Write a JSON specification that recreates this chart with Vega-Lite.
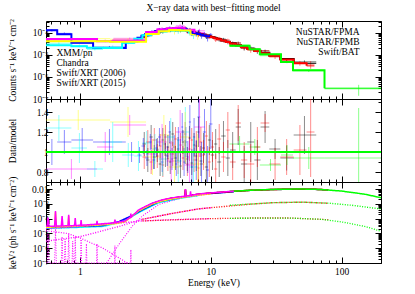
{
"$schema": "https://vega.github.io/schema/vega-lite/v6.json",
"padding": {"left": 7, "top": 3, "right": 5, "bottom": 5},
"config": {
  "font": "Liberation Serif",
  "view": {"stroke": "black", "strokeWidth": 1},
  "axis": {"domain": false, "grid": false, "minExtent": 0, "tickColor": "black", "tickWidth": 1, "domainColor": "black", "domainWidth": 1, "labelColor": "black", "labelFont": "Liberation Serif", "labelFontSize": 9.5, "titleFont": "Liberation Serif", "titleFontSize": 9.5, "titleFontWeight": "normal", "titleColor": "black", "labelPadding": 3},
  "axisX": {"minExtent": 0},
  "axisY": {"minExtent": 0},
  "title": {"font": "Liberation Serif", "fontSize": 9.5, "fontWeight": "normal", "color": "black"}
},
"title": {"text": "X−ray data with best−fitting model", "anchor": "middle", "offset": 6},
"width": 335,
"height": 242,
"datasets": {
  "spec": [
    {"i":"FPMA","lo":3.0,"hi":3.2,"e":3.1,"m":7.0e-5,"v":7.6e-5,"dv":8.4e-6,"r":1.08,"dr":0.12},
    {"i":"FPMA","lo":3.2,"hi":3.4,"e":3.3,"m":8.0e-5,"v":7.4e-5,"dv":9.6e-6,"r":0.92,"dr":0.12},
    {"i":"FPMA","lo":3.4,"hi":3.6,"e":3.5,"m":9.2e-5,"v":1.06e-4,"dv":1.1e-5,"r":1.15,"dr":0.12},
    {"i":"FPMA","lo":3.6,"hi":3.8,"e":3.7,"m":1.03e-4,"v":9.8e-5,"dv":1.24e-5,"r":0.95,"dr":0.12},
    {"i":"FPMA","lo":3.8,"hi":4.0,"e":3.9,"m":1.12e-4,"v":1.14e-4,"dv":1.34e-5,"r":1.02,"dr":0.12},
    {"i":"FPMA","lo":4.0,"hi":4.2,"e":4.1,"m":1.2e-4,"v":1.06e-4,"dv":1.44e-5,"r":0.88,"dr":0.12},
    {"i":"FPMA","lo":4.2,"hi":4.4,"e":4.3,"m":1.27e-4,"v":1.42e-4,"dv":1.52e-5,"r":1.12,"dr":0.12},
    {"i":"FPMA","lo":4.4,"hi":4.6,"e":4.5,"m":1.32e-4,"v":1.28e-4,"dv":1.58e-5,"r":0.97,"dr":0.12},
    {"i":"FPMA","lo":4.6,"hi":4.8,"e":4.7,"m":1.36e-4,"v":1.43e-4,"dv":1.63e-5,"r":1.05,"dr":0.12},
    {"i":"FPMA","lo":4.8,"hi":5.0,"e":4.9,"m":1.39e-4,"v":1.25e-4,"dv":1.67e-5,"r":0.9,"dr":0.12},
    {"i":"FPMA","lo":5.0,"hi":5.25,"e":5.12,"m":1.42e-4,"v":1.68e-4,"dv":1.7e-5,"r":1.18,"dr":0.12},
    {"i":"FPMA","lo":5.25,"hi":5.5,"e":5.37,"m":1.44e-4,"v":1.35e-4,"dv":1.73e-5,"r":0.94,"dr":0.12},
    {"i":"FPMA","lo":5.5,"hi":5.75,"e":5.62,"m":1.45e-4,"v":1.49e-4,"dv":1.74e-5,"r":1.03,"dr":0.12},
    {"i":"FPMA","lo":5.75,"hi":6.0,"e":5.87,"m":1.44e-4,"v":1.24e-4,"dv":1.73e-5,"r":0.86,"dr":0.12},
    {"i":"FPMA","lo":6.0,"hi":6.25,"e":6.12,"m":1.42e-4,"v":1.56e-4,"dv":1.7e-5,"r":1.1,"dr":0.12},
    {"i":"FPMA","lo":6.25,"hi":6.5,"e":6.37,"m":1.55e-4,"v":1.55e-4,"dv":1.86e-5,"r":1.0,"dr":0.12},
    {"i":"FPMA","lo":6.5,"hi":6.75,"e":6.62,"m":1.25e-4,"v":1.16e-4,"dv":1.5e-5,"r":0.93,"dr":0.12},
    {"i":"FPMA","lo":6.75,"hi":7.0,"e":6.87,"m":1.18e-4,"v":1.35e-4,"dv":1.42e-5,"r":1.14,"dr":0.12},
    {"i":"FPMA","lo":7.0,"hi":7.3,"e":7.15,"m":1.12e-4,"v":1.0e-4,"dv":1.34e-5,"r":0.89,"dr":0.12},
    {"i":"FPMA","lo":7.3,"hi":7.6,"e":7.45,"m":1.06e-4,"v":1.13e-4,"dv":1.27e-5,"r":1.07,"dr":0.12},
    {"i":"FPMA","lo":7.6,"hi":7.9,"e":7.75,"m":1.0e-4,"v":9.6e-5,"dv":1.5e-5,"r":0.96,"dr":0.15},
    {"i":"FPMA","lo":7.9,"hi":8.2,"e":8.05,"m":9.5e-5,"v":1.14e-4,"dv":1.43e-5,"r":1.2,"dr":0.15},
    {"i":"FPMA","lo":8.2,"hi":8.6,"e":8.4,"m":8.9e-5,"v":8.1e-5,"dv":1.34e-5,"r":0.91,"dr":0.15},
    {"i":"FPMA","lo":8.6,"hi":9.0,"e":8.8,"m":8.3e-5,"v":8.6e-5,"dv":1.25e-5,"r":1.04,"dr":0.15},
    {"i":"FPMA","lo":9.0,"hi":9.5,"e":9.25,"m":7.7e-5,"v":6.5e-5,"dv":1.16e-5,"r":0.85,"dr":0.15},
    {"i":"FPMA","lo":9.5,"hi":10.0,"e":9.75,"m":7.1e-5,"v":8.0e-5,"dv":1.07e-5,"r":1.12,"dr":0.15},
    {"i":"FPMA","lo":10.0,"hi":10.6,"e":10.3,"m":6.5e-5,"v":6.3e-5,"dv":9.8e-6,"r":0.97,"dr":0.15},
    {"i":"FPMA","lo":10.6,"hi":11.2,"e":10.9,"m":5.9e-5,"v":6.4e-5,"dv":8.9e-6,"r":1.08,"dr":0.15},
    {"i":"FPMA","lo":11.2,"hi":12.0,"e":11.6,"m":5.3e-5,"v":4.8e-5,"dv":8.0e-6,"r":0.9,"dr":0.15},
    {"i":"FPMA","lo":12.0,"hi":13.0,"e":12.5,"m":4.6e-5,"v":5.3e-5,"dv":6.9e-6,"r":1.16,"dr":0.15},
    {"i":"FPMA","lo":13.0,"hi":14.0,"e":13.5,"m":4.0e-5,"v":3.8e-5,"dv":7.2e-6,"r":0.94,"dr":0.18},
    {"i":"FPMA","lo":14.0,"hi":15.5,"e":14.7,"m":3.4e-5,"v":3.5e-5,"dv":6.1e-6,"r":1.02,"dr":0.18},
    {"i":"FPMA","lo":15.5,"hi":17.0,"e":16.2,"m":2.8e-5,"v":3.5e-5,"dv":5.0e-6,"r":1.25,"dr":0.18},
    {"i":"FPMA","lo":17.0,"hi":19.0,"e":18.0,"m":2.3e-5,"v":2.0e-5,"dv":4.1e-6,"r":0.88,"dr":0.18},
    {"i":"FPMA","lo":19.0,"hi":21.5,"e":20.2,"m":1.9e-5,"v":2.1e-5,"dv":3.8e-6,"r":1.1,"dr":0.2},
    {"i":"FPMA","lo":21.5,"hi":24.0,"e":22.7,"m":1.55e-5,"v":1.43e-5,"dv":3.1e-6,"r":0.92,"dr":0.2},
    {"i":"FPMA","lo":24.0,"hi":28.0,"e":26.0,"m":1.25e-5,"v":1.56e-5,"dv":2.0e-6,"r":1.25,"dr":0.16},
    {"i":"FPMA","lo":28.0,"hi":34.0,"e":31.0,"m":9.5e-6,"v":9.8e-6,"dv":9.5e-7,"r":1.03,"dr":0.1},
    {"i":"FPMA","lo":34.0,"hi":43.0,"e":38.0,"m":6.5e-6,"v":6.1e-6,"dv":8.1e-7,"r":0.94,"dr":0.125},
    {"i":"FPMA","lo":43.0,"hi":64.0,"e":52.0,"m":4.2e-6,"v":4.9e-6,"dv":8.0e-7,"r":1.17,"dr":0.19},
    {"i":"FPMB","lo":3.0,"hi":3.2,"e":3.1,"m":6.9e-5,"v":6.6e-5,"dv":8.3e-6,"r":0.95,"dr":0.12},
    {"i":"FPMB","lo":3.2,"hi":3.4,"e":3.3,"m":7.8e-5,"v":8.6e-5,"dv":9.4e-6,"r":1.1,"dr":0.12},
    {"i":"FPMB","lo":3.4,"hi":3.6,"e":3.5,"m":9.0e-5,"v":8.1e-5,"dv":1.08e-5,"r":0.9,"dr":0.12},
    {"i":"FPMB","lo":3.6,"hi":3.8,"e":3.7,"m":1.01e-4,"v":1.13e-4,"dv":1.21e-5,"r":1.12,"dr":0.12},
    {"i":"FPMB","lo":3.8,"hi":4.0,"e":3.9,"m":1.1e-4,"v":1.06e-4,"dv":1.32e-5,"r":0.96,"dr":0.12},
    {"i":"FPMB","lo":4.0,"hi":4.2,"e":4.1,"m":1.18e-4,"v":1.25e-4,"dv":1.42e-5,"r":1.06,"dr":0.12},
    {"i":"FPMB","lo":4.2,"hi":4.4,"e":4.3,"m":1.24e-4,"v":1.08e-4,"dv":1.49e-5,"r":0.87,"dr":0.12},
    {"i":"FPMB","lo":4.4,"hi":4.6,"e":4.5,"m":1.29e-4,"v":1.48e-4,"dv":1.55e-5,"r":1.15,"dr":0.12},
    {"i":"FPMB","lo":4.6,"hi":4.8,"e":4.7,"m":1.33e-4,"v":1.24e-4,"dv":1.6e-5,"r":0.93,"dr":0.12},
    {"i":"FPMB","lo":4.8,"hi":5.0,"e":4.9,"m":1.36e-4,"v":1.48e-4,"dv":1.63e-5,"r":1.09,"dr":0.12},
    {"i":"FPMB","lo":5.0,"hi":5.25,"e":5.12,"m":1.39e-4,"v":1.36e-4,"dv":1.67e-5,"r":0.98,"dr":0.12},
    {"i":"FPMB","lo":5.25,"hi":5.5,"e":5.37,"m":1.41e-4,"v":1.59e-4,"dv":1.69e-5,"r":1.13,"dr":0.12},
    {"i":"FPMB","lo":5.5,"hi":5.75,"e":5.62,"m":1.42e-4,"v":1.28e-4,"dv":1.7e-5,"r":0.9,"dr":0.12},
    {"i":"FPMB","lo":5.75,"hi":6.0,"e":5.87,"m":1.41e-4,"v":1.51e-4,"dv":1.69e-5,"r":1.07,"dr":0.12},
    {"i":"FPMB","lo":6.0,"hi":6.25,"e":6.12,"m":1.39e-4,"v":1.31e-4,"dv":1.67e-5,"r":0.94,"dr":0.12},
    {"i":"FPMB","lo":6.25,"hi":6.5,"e":6.37,"m":1.52e-4,"v":1.79e-4,"dv":1.82e-5,"r":1.18,"dr":0.12},
    {"i":"FPMB","lo":6.5,"hi":6.75,"e":6.62,"m":1.22e-4,"v":1.07e-4,"dv":1.46e-5,"r":0.88,"dr":0.12},
    {"i":"FPMB","lo":6.75,"hi":7.0,"e":6.87,"m":1.16e-4,"v":1.19e-4,"dv":1.39e-5,"r":1.03,"dr":0.12},
    {"i":"FPMB","lo":7.0,"hi":7.3,"e":7.15,"m":1.1e-4,"v":1.23e-4,"dv":1.32e-5,"r":1.12,"dr":0.12},
    {"i":"FPMB","lo":7.3,"hi":7.6,"e":7.45,"m":1.04e-4,"v":9.6e-5,"dv":1.25e-5,"r":0.92,"dr":0.12},
    {"i":"FPMB","lo":7.6,"hi":7.9,"e":7.75,"m":9.8e-5,"v":1.04e-4,"dv":1.47e-5,"r":1.06,"dr":0.15},
    {"i":"FPMB","lo":7.9,"hi":8.2,"e":8.05,"m":9.3e-5,"v":7.8e-5,"dv":1.4e-5,"r":0.84,"dr":0.15},
    {"i":"FPMB","lo":8.2,"hi":8.6,"e":8.4,"m":8.7e-5,"v":9.6e-5,"dv":1.3e-5,"r":1.1,"dr":0.15},
    {"i":"FPMB","lo":8.6,"hi":9.0,"e":8.8,"m":8.1e-5,"v":7.9e-5,"dv":1.22e-5,"r":0.97,"dr":0.15},
    {"i":"FPMB","lo":9.0,"hi":9.5,"e":9.25,"m":7.5e-5,"v":8.7e-5,"dv":1.13e-5,"r":1.16,"dr":0.15},
    {"i":"FPMB","lo":9.5,"hi":10.0,"e":9.75,"m":7.0e-5,"v":6.3e-5,"dv":1.05e-5,"r":0.9,"dr":0.15},
    {"i":"FPMB","lo":10.0,"hi":10.6,"e":10.3,"m":6.4e-5,"v":6.7e-5,"dv":9.6e-6,"r":1.05,"dr":0.15},
    {"i":"FPMB","lo":10.6,"hi":11.2,"e":10.9,"m":5.8e-5,"v":4.8e-5,"dv":8.7e-6,"r":0.83,"dr":0.15},
    {"i":"FPMB","lo":11.2,"hi":12.0,"e":11.6,"m":5.2e-5,"v":5.9e-5,"dv":7.8e-6,"r":1.13,"dr":0.15},
    {"i":"FPMB","lo":12.0,"hi":13.0,"e":12.5,"m":4.5e-5,"v":4.3e-5,"dv":6.8e-6,"r":0.95,"dr":0.15},
    {"i":"FPMB","lo":13.0,"hi":14.0,"e":13.5,"m":3.9e-5,"v":4.8e-5,"dv":7.0e-6,"r":1.22,"dr":0.18},
    {"i":"FPMB","lo":14.0,"hi":15.5,"e":14.7,"m":3.3e-5,"v":3.0e-5,"dv":5.9e-6,"r":0.9,"dr":0.18},
    {"i":"FPMB","lo":15.5,"hi":17.0,"e":16.2,"m":2.75e-5,"v":3.5e-5,"dv":5.0e-6,"r":1.29,"dr":0.18},
    {"i":"FPMB","lo":17.0,"hi":19.0,"e":18.0,"m":2.25e-5,"v":2.07e-5,"dv":4.1e-6,"r":0.92,"dr":0.18},
    {"i":"FPMB","lo":19.0,"hi":21.5,"e":20.2,"m":1.85e-5,"v":1.63e-5,"dv":3.7e-6,"r":0.88,"dr":0.2},
    {"i":"FPMB","lo":21.5,"hi":24.0,"e":22.7,"m":1.5e-5,"v":1.58e-5,"dv":3.0e-6,"r":1.05,"dr":0.2},
    {"i":"FPMB","lo":24.0,"hi":28.0,"e":26.0,"m":1.2e-5,"v":1.55e-5,"dv":1.1e-6,"r":1.29,"dr":0.09},
    {"i":"FPMB","lo":28.0,"hi":34.0,"e":31.0,"m":9.2e-6,"v":8.1e-6,"dv":1.5e-6,"r":0.88,"dr":0.16},
    {"i":"FPMB","lo":34.0,"hi":43.0,"e":38.0,"m":6.3e-6,"v":6.0e-6,"dv":1.1e-6,"r":0.95,"dr":0.18},
    {"i":"FPMB","lo":43.0,"hi":54.0,"e":48.0,"m":4.2e-6,"v":4.3e-6,"dv":1.05e-6,"r":1.02,"dr":0.25},
    {"i":"FPMB","lo":54.0,"hi":62.0,"e":58.0,"m":3.2e-6,"v":3.8e-6,"dv":1.44e-6,"r":1.2,"dr":0.45},
    {"i":"BAT","lo":13.9,"hi":19.8,"e":16.6,"m":2.6e-5,"v":2.8e-5,"dv":2e-6,"r":1.08,"dr":0.08},
    {"i":"BAT","lo":19.8,"hi":23.7,"e":21.7,"m":1.8e-5,"v":1.9e-5,"dv":1.4e-6,"r":1.05,"dr":0.08},
    {"i":"BAT","lo":23.7,"hi":34.4,"e":28.6,"m":1.07e-5,"v":9.3e-6,"dv":6.4e-7,"r":0.87,"dr":0.06},
    {"i":"BAT","lo":34.4,"hi":42.5,"e":38.2,"m":4.8e-6,"v":4.7e-6,"dv":4.8e-7,"r":0.97,"dr":0.1},
    {"i":"BAT","lo":42.5,"hi":74.0,"e":56.1,"m":2.0e-6,"v":1.9e-6,"dv":2.2e-7,"r":0.94,"dr":0.11},
    {"i":"BAT","lo":74.0,"hi":200.0,"e":135.0,"m":3.1e-7,"v":2.9e-7,"dv":1.5e-7,"r":0.94,"dr":0.5},
    {"i":"XMM","lo":0.55,"hi":0.67,"e":0.61,"m":1.33e-4,"v":1.33e-4,"dv":1.7e-5,"r":1.0,"dr":0.13},
    {"i":"XMM","lo":0.67,"hi":0.86,"e":0.76,"m":8.7e-5,"v":9.6e-5,"dv":1.0e-5,"r":1.1,"dr":0.12},
    {"i":"XMM","lo":0.86,"hi":1.26,"e":1.04,"m":3.6e-5,"v":4.0e-5,"dv":4.3e-6,"r":1.12,"dr":0.12},
    {"i":"XMM","lo":1.26,"hi":2.24,"e":1.68,"m":2.1e-5,"v":2.3e-5,"dv":2.7e-6,"r":1.1,"dr":0.13},
    {"i":"XMM","lo":2.24,"hi":2.75,"e":2.48,"m":4.2e-5,"v":4.2e-5,"dv":4.2e-6,"r":1.0,"dr":0.1},
    {"i":"XMM","lo":2.75,"hi":2.95,"e":2.85,"m":6.0e-5,"v":5.8e-5,"dv":4.8e-6,"r":0.97,"dr":0.08},
    {"i":"XMM","lo":2.95,"hi":3.15,"e":3.05,"m":7.5e-5,"v":8.0e-5,"dv":6.0e-6,"r":1.06,"dr":0.08},
    {"i":"XMM","lo":3.15,"hi":3.35,"e":3.25,"m":9.0e-5,"v":8.5e-5,"dv":7.2e-6,"r":0.94,"dr":0.08},
    {"i":"XMM","lo":3.35,"hi":3.55,"e":3.45,"m":1.03e-4,"v":1.13e-4,"dv":8.2e-6,"r":1.1,"dr":0.08},
    {"i":"XMM","lo":3.55,"hi":3.75,"e":3.65,"m":1.15e-4,"v":1.06e-4,"dv":1.04e-5,"r":0.92,"dr":0.09},
    {"i":"XMM","lo":3.75,"hi":3.95,"e":3.85,"m":1.24e-4,"v":1.29e-4,"dv":1.12e-5,"r":1.04,"dr":0.09},
    {"i":"XMM","lo":3.95,"hi":4.15,"e":4.05,"m":1.32e-4,"v":1.52e-4,"dv":1.19e-5,"r":1.15,"dr":0.09},
    {"i":"XMM","lo":4.15,"hi":4.35,"e":4.25,"m":1.38e-4,"v":1.24e-4,"dv":1.38e-5,"r":0.9,"dr":0.1},
    {"i":"XMM","lo":4.35,"hi":4.55,"e":4.45,"m":1.43e-4,"v":1.54e-4,"dv":1.43e-5,"r":1.08,"dr":0.1},
    {"i":"XMM","lo":4.55,"hi":4.75,"e":4.65,"m":1.47e-4,"v":1.41e-4,"dv":1.47e-5,"r":0.96,"dr":0.1},
    {"i":"XMM","lo":4.75,"hi":4.95,"e":4.85,"m":1.5e-4,"v":1.8e-4,"dv":1.65e-5,"r":1.2,"dr":0.11},
    {"i":"XMM","lo":4.95,"hi":5.15,"e":5.05,"m":1.53e-4,"v":1.42e-4,"dv":1.68e-5,"r":0.93,"dr":0.11},
    {"i":"XMM","lo":5.15,"hi":5.35,"e":5.25,"m":1.55e-4,"v":1.63e-4,"dv":1.86e-5,"r":1.05,"dr":0.12},
    {"i":"XMM","lo":5.35,"hi":5.55,"e":5.45,"m":1.56e-4,"v":1.37e-4,"dv":1.87e-5,"r":0.88,"dr":0.12},
    {"i":"XMM","lo":5.55,"hi":5.75,"e":5.65,"m":1.56e-4,"v":1.75e-4,"dv":2.03e-5,"r":1.12,"dr":0.13},
    {"i":"XMM","lo":5.75,"hi":5.95,"e":5.85,"m":1.55e-4,"v":1.55e-4,"dv":2.0e-5,"r":1.0,"dr":0.13},
    {"i":"XMM","lo":5.95,"hi":6.15,"e":6.05,"m":1.52e-4,"v":1.9e-4,"dv":2.1e-5,"r":1.25,"dr":0.14},
    {"i":"XMM","lo":6.15,"hi":6.35,"e":6.25,"m":1.6e-4,"v":1.44e-4,"dv":2.2e-5,"r":0.9,"dr":0.14},
    {"i":"XMM","lo":6.35,"hi":6.55,"e":6.45,"m":1.5e-4,"v":1.65e-4,"dv":2.25e-5,"r":1.1,"dr":0.15},
    {"i":"XMM","lo":6.55,"hi":6.8,"e":6.67,"m":1.25e-4,"v":1.19e-4,"dv":2.0e-5,"r":0.95,"dr":0.16},
    {"i":"XMM","lo":6.8,"hi":7.05,"e":6.92,"m":1.15e-4,"v":1.5e-4,"dv":1.96e-5,"r":1.3,"dr":0.17},
    {"i":"XMM","lo":7.05,"hi":7.3,"e":7.17,"m":1.08e-4,"v":9.2e-5,"dv":1.94e-5,"r":0.85,"dr":0.18},
    {"i":"XMM","lo":7.3,"hi":7.6,"e":7.45,"m":1.02e-4,"v":1.17e-4,"dv":1.94e-5,"r":1.15,"dr":0.19},
    {"i":"XMM","lo":7.6,"hi":7.9,"e":7.75,"m":9.6e-5,"v":8.8e-5,"dv":1.92e-5,"r":0.92,"dr":0.2},
    {"i":"XMM","lo":7.9,"hi":8.3,"e":8.1,"m":9.0e-5,"v":1.22e-4,"dv":1.9e-5,"r":1.35,"dr":0.21},
    {"i":"XMM","lo":8.3,"hi":8.7,"e":8.5,"m":8.3e-5,"v":7.3e-5,"dv":1.83e-5,"r":0.88,"dr":0.22},
    {"i":"XMM","lo":8.7,"hi":9.2,"e":8.95,"m":7.7e-5,"v":9.2e-5,"dv":1.77e-5,"r":1.2,"dr":0.23},
    {"i":"XMM","lo":9.2,"hi":9.7,"e":9.45,"m":7.1e-5,"v":5.8e-5,"dv":1.7e-5,"r":0.82,"dr":0.24},
    {"i":"XMM","lo":9.7,"hi":10.3,"e":10.0,"m":6.5e-5,"v":8.3e-5,"dv":1.63e-5,"r":1.28,"dr":0.25},
    {"i":"Chandra","lo":0.55,"hi":0.86,"e":0.69,"m":2.75e-5,"v":3.4e-5,"dv":3.6e-6,"r":1.24,"dr":0.13},
    {"i":"Chandra","lo":0.86,"hi":1.13,"e":0.99,"m":2.5e-5,"v":2.6e-5,"dv":3.8e-6,"r":1.04,"dr":0.15},
    {"i":"Chandra","lo":1.13,"hi":1.5,"e":1.3,"m":2.15e-5,"v":1.8e-5,"dv":1.9e-6,"r":0.83,"dr":0.08},
    {"i":"Chandra","lo":1.5,"hi":2.1,"e":1.78,"m":2.1e-5,"v":2.3e-5,"dv":4.2e-6,"r":1.1,"dr":0.2},
    {"i":"Chandra","lo":2.1,"hi":2.6,"e":2.34,"m":3.6e-5,"v":3.5e-5,"dv":4.3e-6,"r":0.97,"dr":0.12},
    {"i":"Chandra","lo":2.6,"hi":3.0,"e":2.8,"m":5.4e-5,"v":5.2e-5,"dv":8.1e-6,"r":0.96,"dr":0.15},
    {"i":"Chandra","lo":3.0,"hi":3.5,"e":3.24,"m":7.8e-5,"v":8.5e-5,"dv":9.4e-6,"r":1.09,"dr":0.12},
    {"i":"Chandra","lo":3.5,"hi":4.0,"e":3.74,"m":1.02e-4,"v":1.05e-4,"dv":1.5e-5,"r":1.03,"dr":0.15},
    {"i":"Chandra","lo":4.0,"hi":4.6,"e":4.29,"m":1.18e-4,"v":1.1e-4,"dv":2.0e-5,"r":0.93,"dr":0.17},
    {"i":"Chandra","lo":4.6,"hi":5.3,"e":4.94,"m":1.3e-4,"v":1.5e-4,"dv":2.5e-5,"r":1.15,"dr":0.19},
    {"i":"Chandra","lo":5.3,"hi":6.0,"e":5.64,"m":1.32e-4,"v":1.2e-4,"dv":2.9e-5,"r":0.91,"dr":0.22},
    {"i":"Chandra","lo":6.0,"hi":6.8,"e":6.39,"m":1.25e-4,"v":1.5e-4,"dv":3.1e-5,"r":1.2,"dr":0.25},
    {"i":"Chandra","lo":6.8,"hi":8.0,"e":7.38,"m":9.5e-5,"v":8.1e-5,"dv":2.8e-5,"r":0.85,"dr":0.3},
    {"i":"XRT06","lo":0.55,"hi":1.35,"e":0.86,"m":5.3e-5,"v":4.4e-5,"dv":5.3e-6,"r":0.83,"dr":0.1},
    {"i":"XRT06","lo":1.35,"hi":1.8,"e":1.56,"m":4.2e-5,"v":4.4e-5,"dv":6.3e-6,"r":1.05,"dr":0.15},
    {"i":"XRT06","lo":1.8,"hi":3.2,"e":2.4,"m":4.5e-5,"v":5.7e-5,"dv":4.5e-6,"r":1.27,"dr":0.1},
    {"i":"XRT06","lo":3.2,"hi":3.9,"e":3.53,"m":1.1e-4,"v":1.08e-4,"dv":1.8e-5,"r":0.98,"dr":0.16},
    {"i":"XRT06","lo":3.9,"hi":4.6,"e":4.24,"m":1.45e-4,"v":1.6e-4,"dv":2.6e-5,"r":1.1,"dr":0.18},
    {"i":"XRT06","lo":4.6,"hi":5.4,"e":4.98,"m":1.65e-4,"v":1.5e-4,"dv":3.3e-5,"r":0.91,"dr":0.2},
    {"i":"XRT06","lo":5.4,"hi":6.3,"e":5.83,"m":1.75e-4,"v":2.1e-4,"dv":3.9e-5,"r":1.2,"dr":0.22},
    {"i":"XRT06","lo":6.3,"hi":7.5,"e":6.87,"m":1.4e-4,"v":1.22e-4,"dv":3.5e-5,"r":0.87,"dr":0.25},
    {"i":"XRT06","lo":7.5,"hi":9.0,"e":8.2,"m":1.0e-4,"v":1.25e-4,"dv":3.0e-5,"r":1.25,"dr":0.3},
    {"i":"XRT15","lo":0.55,"hi":1.7,"e":0.97,"m":4.2e-5,"v":5.5e-5,"dv":4.2e-6,"r":1.32,"dr":0.1},
    {"i":"XRT15","lo":1.7,"hi":3.2,"e":2.33,"m":4.0e-5,"v":5.2e-5,"dv":6e-6,"r":1.3,"dr":0.15},
    {"i":"XRT15","lo":3.2,"hi":4.0,"e":3.58,"m":9.0e-5,"v":8.6e-5,"dv":1.6e-5,"r":0.95,"dr":0.18},
    {"i":"XRT15","lo":4.0,"hi":4.8,"e":4.38,"m":1.2e-4,"v":1.4e-4,"dv":2.4e-5,"r":1.17,"dr":0.2},
    {"i":"XRT15","lo":4.8,"hi":5.8,"e":5.28,"m":1.35e-4,"v":1.15e-4,"dv":3.0e-5,"r":0.85,"dr":0.22},
    {"i":"XRT15","lo":5.8,"hi":7.0,"e":6.37,"m":1.3e-4,"v":1.5e-4,"dv":3.3e-5,"r":1.15,"dr":0.25},
    {"i":"XRT15","lo":7.0,"hi":9.0,"e":7.94,"m":8.5e-5,"v":7.5e-5,"dv":2.6e-5,"r":0.88,"dr":0.3}
  ],
  "bot": [
    {"i":"Chandra","c":"t","e":0.55,"f":2.2e-5},{"i":"Chandra","c":"t","e":1.0,"f":2.6e-5},{"i":"Chandra","c":"t","e":1.5,"f":3.0e-5},{"i":"Chandra","c":"t","e":2.0,"f":5.5e-5},{"i":"Chandra","c":"t","e":2.5,"f":1.4e-4},{"i":"Chandra","c":"t","e":3.0,"f":3.5e-4},{"i":"Chandra","c":"t","e":4.0,"f":1.2e-3},{"i":"Chandra","c":"t","e":6.0,"f":2.5e-3},{"i":"Chandra","c":"t","e":8.0,"f":3.6e-3},
    {"i":"XMM","c":"t","e":0.55,"f":2.5e-5},{"i":"XMM","c":"t","e":1.0,"f":3.0e-5},{"i":"XMM","c":"t","e":1.5,"f":3.4e-5},{"i":"XMM","c":"t","e":2.0,"f":6.5e-5},{"i":"XMM","c":"t","e":2.5,"f":1.6e-4},{"i":"XMM","c":"t","e":3.0,"f":4.0e-4},{"i":"XMM","c":"t","e":4.0,"f":1.4e-3},{"i":"XMM","c":"t","e":6.0,"f":2.9e-3},{"i":"XMM","c":"t","e":8.0,"f":4.2e-3},{"i":"XMM","c":"t","e":10.0,"f":5.0e-3},{"i":"XMM","c":"t","e":15.0,"f":6.6e-3},
    {"i":"FPMA","c":"t","e":3.0,"f":4.8e-4},{"i":"FPMA","c":"t","e":3.6,"f":1.05e-3},{"i":"FPMA","c":"t","e":4.2,"f":1.65e-3},{"i":"FPMA","c":"t","e":5.0,"f":2.35e-3},{"i":"FPMA","c":"t","e":6.0,"f":2.95e-3},{"i":"FPMA","c":"t","e":6.35,"f":3.1e-3},{"i":"FPMA","c":"t","e":6.4,"f":9.0e-3},{"i":"FPMA","c":"t","e":6.45,"f":3.15e-3},{"i":"FPMA","c":"t","e":8.0,"f":4.4e-3},{"i":"FPMA","c":"t","e":10.0,"f":5.3e-3},{"i":"FPMA","c":"t","e":15.0,"f":7.0e-3},{"i":"FPMA","c":"t","e":20.0,"f":8.2e-3},{"i":"FPMA","c":"t","e":30.0,"f":9.3e-3},{"i":"FPMA","c":"t","e":45.0,"f":9.9e-3},{"i":"FPMA","c":"t","e":60.0,"f":9.7e-3},{"i":"FPMA","c":"t","e":79.0,"f":8.8e-3},
    {"i":"FPMB","c":"t","e":3.0,"f":4.9e-4},{"i":"FPMB","c":"t","e":3.6,"f":1.07e-3},{"i":"FPMB","c":"t","e":4.2,"f":1.68e-3},{"i":"FPMB","c":"t","e":5.0,"f":2.4e-3},{"i":"FPMB","c":"t","e":6.0,"f":3.0e-3},{"i":"FPMB","c":"t","e":6.35,"f":3.15e-3},{"i":"FPMB","c":"t","e":6.4,"f":9.5e-3},{"i":"FPMB","c":"t","e":6.45,"f":3.2e-3},{"i":"FPMB","c":"t","e":8.0,"f":4.5e-3},{"i":"FPMB","c":"t","e":10.0,"f":5.4e-3},{"i":"FPMB","c":"t","e":15.0,"f":7.1e-3},{"i":"FPMB","c":"t","e":20.0,"f":8.3e-3},{"i":"FPMB","c":"t","e":30.0,"f":9.4e-3},{"i":"FPMB","c":"t","e":45.0,"f":1.0e-2},{"i":"FPMB","c":"t","e":60.0,"f":9.8e-3},{"i":"FPMB","c":"t","e":79.0,"f":8.9e-3},
    {"i":"BAT","c":"t","e":14.0,"f":6.9e-3},{"i":"BAT","c":"t","e":20.0,"f":8.3e-3},{"i":"BAT","c":"t","e":30.0,"f":9.5e-3},{"i":"BAT","c":"t","e":45.0,"f":1.0e-2},{"i":"BAT","c":"t","e":60.0,"f":9.8e-3},{"i":"BAT","c":"t","e":70.0,"f":9.3e-3},{"i":"BAT","c":"t","e":100.0,"f":7.3e-3},{"i":"BAT","c":"t","e":150.0,"f":4.5e-3},{"i":"BAT","c":"t","e":200.0,"f":2.6e-3},
    {"i":"XRT15","c":"t","e":0.55,"f":2.6e-5},{"i":"XRT15","c":"t","e":0.64,"f":2.7e-5},{"i":"XRT15","c":"t","e":0.65,"f":2.8e-4},{"i":"XRT15","c":"t","e":0.66,"f":2.7e-5},{"i":"XRT15","c":"t","e":0.81,"f":2.9e-5},{"i":"XRT15","c":"t","e":0.82,"f":1.5e-4},{"i":"XRT15","c":"t","e":0.83,"f":2.9e-5},{"i":"XRT15","c":"t","e":1.34,"f":3.6e-5},{"i":"XRT15","c":"t","e":1.35,"f":6e-5},{"i":"XRT15","c":"t","e":1.36,"f":3.6e-5},{"i":"XRT15","c":"t","e":1.83,"f":4.5e-5},{"i":"XRT15","c":"t","e":1.85,"f":7.5e-5},{"i":"XRT15","c":"t","e":1.87,"f":4.6e-5},{"i":"XRT15","c":"t","e":2.2,"f":6e-5},{"i":"XRT15","c":"t","e":2.8,"f":3.3e-4},{"i":"XRT15","c":"t","e":3.2,"f":6e-4},{"i":"XRT15","c":"t","e":3.6,"f":1.0e-3},{"i":"XRT15","c":"t","e":4.2,"f":1.55e-3},{"i":"XRT15","c":"t","e":5.0,"f":2.15e-3},{"i":"XRT15","c":"t","e":6.0,"f":2.7e-3},{"i":"XRT15","c":"t","e":8.0,"f":3.9e-3},{"i":"XRT15","c":"t","e":10.0,"f":4.7e-3},
    {"i":"XRT06","c":"t","e":0.55,"f":3.0e-5},{"i":"XRT06","c":"t","e":0.56,"f":3.0e-5},{"i":"XRT06","c":"t","e":0.57,"f":1.2e-4},{"i":"XRT06","c":"t","e":0.58,"f":3.0e-5},{"i":"XRT06","c":"t","e":0.64,"f":3.1e-5},{"i":"XRT06","c":"t","e":0.65,"f":3.3e-4},{"i":"XRT06","c":"t","e":0.66,"f":3.1e-5},{"i":"XRT06","c":"t","e":0.72,"f":3.2e-5},{"i":"XRT06","c":"t","e":0.73,"f":1.5e-4},{"i":"XRT06","c":"t","e":0.74,"f":3.2e-5},{"i":"XRT06","c":"t","e":0.81,"f":3.3e-5},{"i":"XRT06","c":"t","e":0.82,"f":1.8e-4},{"i":"XRT06","c":"t","e":0.83,"f":3.3e-5},{"i":"XRT06","c":"t","e":0.91,"f":3.4e-5},{"i":"XRT06","c":"t","e":0.92,"f":1.1e-4},{"i":"XRT06","c":"t","e":0.93,"f":3.4e-5},{"i":"XRT06","c":"t","e":1.01,"f":3.6e-5},{"i":"XRT06","c":"t","e":1.02,"f":8e-5},{"i":"XRT06","c":"t","e":1.03,"f":3.6e-5},{"i":"XRT06","c":"t","e":1.34,"f":4.2e-5},{"i":"XRT06","c":"t","e":1.35,"f":7e-5},{"i":"XRT06","c":"t","e":1.36,"f":4.2e-5},{"i":"XRT06","c":"t","e":1.83,"f":5.2e-5},{"i":"XRT06","c":"t","e":1.85,"f":8.5e-5},{"i":"XRT06","c":"t","e":1.87,"f":5.4e-5},{"i":"XRT06","c":"t","e":2.2,"f":7e-5},{"i":"XRT06","c":"t","e":2.43,"f":1.2e-4},{"i":"XRT06","c":"t","e":2.45,"f":2.2e-4},{"i":"XRT06","c":"t","e":2.47,"f":1.3e-4},{"i":"XRT06","c":"t","e":2.8,"f":3.8e-4},{"i":"XRT06","c":"t","e":3.2,"f":7e-4},{"i":"XRT06","c":"t","e":3.6,"f":1.15e-3},{"i":"XRT06","c":"t","e":4.2,"f":1.8e-3},{"i":"XRT06","c":"t","e":5.0,"f":2.5e-3},{"i":"XRT06","c":"t","e":6.0,"f":3.1e-3},{"i":"XRT06","c":"t","e":6.35,"f":3.3e-3},{"i":"XRT06","c":"t","e":6.4,"f":1.0e-2},{"i":"XRT06","c":"t","e":6.45,"f":3.35e-3},{"i":"XRT06","c":"t","e":6.95,"f":3.7e-3},{"i":"XRT06","c":"t","e":7.0,"f":7e-3},{"i":"XRT06","c":"t","e":7.05,"f":3.7e-3},{"i":"XRT06","c":"t","e":8.0,"f":4.6e-3},{"i":"XRT06","c":"t","e":10.0,"f":5.5e-3},{"i":"XRT06","c":"t","e":15.0,"f":7.2e-3},
    {"i":"XRT06","c":"a","e":0.55,"f":3e-6},{"i":"XRT06","c":"a","e":1.0,"f":6e-6},{"i":"XRT06","c":"a","e":2.0,"f":3e-5},{"i":"XRT06","c":"a","e":3.0,"f":9e-5},{"i":"XRT06","c":"a","e":5.0,"f":2.2e-4},{"i":"XRT06","c":"a","e":8.0,"f":4.5e-4},{"i":"XRT06","c":"a","e":10.0,"f":5.5e-4},
    {"i":"FPMB","c":"a","e":3.0,"f":9e-5},{"i":"FPMB","c":"a","e":5.0,"f":2.2e-4},{"i":"FPMB","c":"a","e":8.0,"f":4.5e-4},{"i":"FPMB","c":"a","e":10.0,"f":5.5e-4},{"i":"FPMB","c":"a","e":20.0,"f":9.5e-4},{"i":"FPMB","c":"a","e":30.0,"f":1.2e-3},{"i":"FPMB","c":"a","e":50.0,"f":1.3e-3},{"i":"FPMB","c":"a","e":79.0,"f":1.1e-3},
    {"i":"BAT","c":"a","e":14.0,"f":8e-4},{"i":"BAT","c":"a","e":30.0,"f":1.2e-3},{"i":"BAT","c":"a","e":50.0,"f":1.3e-3},{"i":"BAT","c":"a","e":80.0,"f":1.1e-3},{"i":"BAT","c":"a","e":120.0,"f":8e-4},{"i":"BAT","c":"a","e":200.0,"f":4.5e-4},
    {"i":"XRT06","c":"b","e":0.55,"f":2e-5},{"i":"XRT06","c":"b","e":1.0,"f":3e-5},{"i":"XRT06","c":"b","e":2.0,"f":5e-5},{"i":"XRT06","c":"b","e":3.0,"f":7e-5},{"i":"XRT06","c":"b","e":5.0,"f":8.5e-5},{"i":"XRT06","c":"b","e":10.0,"f":1e-4},
    {"i":"FPMB","c":"b","e":3.0,"f":7e-5},{"i":"FPMB","c":"b","e":10.0,"f":1e-4},{"i":"FPMB","c":"b","e":20.0,"f":1.1e-4},{"i":"FPMB","c":"b","e":40.0,"f":1.1e-4},{"i":"FPMB","c":"b","e":79.0,"f":8.5e-5},
    {"i":"BAT","c":"b","e":14.0,"f":1.05e-4},{"i":"BAT","c":"b","e":40.0,"f":1.1e-4},{"i":"BAT","c":"b","e":70.0,"f":9e-5},{"i":"BAT","c":"b","e":100.0,"f":6e-5},{"i":"BAT","c":"b","e":150.0,"f":3e-5},{"i":"BAT","c":"b","e":200.0,"f":1.4e-5},
    {"i":"XRT06","c":"s","e":0.55,"f":1.5e-5},{"i":"XRT06","c":"s","e":0.8,"f":1e-5},{"i":"XRT06","c":"s","e":1.0,"f":5e-6},{"i":"XRT06","c":"s","e":1.5,"f":1e-6},{"i":"XRT06","c":"s","e":2.3,"f":1e-7},
    {"i":"XRT06","c":"p","e":1.6,"f":1e-7},{"i":"XRT06","c":"p","e":2.0,"f":2e-6},{"i":"XRT06","c":"p","e":2.5,"f":3e-5},{"i":"XRT06","c":"p","e":3.0,"f":1.5e-4},{"i":"XRT06","c":"p","e":4.0,"f":9e-4},{"i":"XRT06","c":"p","e":6.0,"f":2.6e-3},{"i":"XRT06","c":"p","e":10.0,"f":4.8e-3},
    {"i":"XRT06","c":"l","e":0.56,"f":1e-8},{"i":"XRT06","c":"l","e":0.57,"f":1e-5},{"i":"XRT06","c":"l","e":0.58,"f":1e-8},{"i":"XRT06","c":"l","e":0.64,"f":1e-8},{"i":"XRT06","c":"l","e":0.65,"f":2e-5},{"i":"XRT06","c":"l","e":0.66,"f":1e-8},{"i":"XRT06","c":"l","e":0.72,"f":1e-8},{"i":"XRT06","c":"l","e":0.73,"f":6e-6},{"i":"XRT06","c":"l","e":0.74,"f":1e-8},{"i":"XRT06","c":"l","e":0.76,"f":1e-8},{"i":"XRT06","c":"l","e":0.77,"f":4e-6},{"i":"XRT06","c":"l","e":0.78,"f":1e-8},{"i":"XRT06","c":"l","e":0.81,"f":1e-8},{"i":"XRT06","c":"l","e":0.82,"f":1e-5},{"i":"XRT06","c":"l","e":0.83,"f":1e-8},{"i":"XRT06","c":"l","e":0.87,"f":1e-8},{"i":"XRT06","c":"l","e":0.88,"f":3e-6},{"i":"XRT06","c":"l","e":0.89,"f":1e-8},{"i":"XRT06","c":"l","e":0.91,"f":1e-8},{"i":"XRT06","c":"l","e":0.92,"f":6e-6},{"i":"XRT06","c":"l","e":0.93,"f":1e-8},{"i":"XRT06","c":"l","e":1.01,"f":1e-8},{"i":"XRT06","c":"l","e":1.02,"f":4e-6},{"i":"XRT06","c":"l","e":1.03,"f":1e-8},{"i":"XRT06","c":"l","e":1.11,"f":1e-8},{"i":"XRT06","c":"l","e":1.12,"f":2e-6},{"i":"XRT06","c":"l","e":1.13,"f":1e-8},{"i":"XRT06","c":"l","e":1.34,"f":1e-8},{"i":"XRT06","c":"l","e":1.35,"f":2e-6},{"i":"XRT06","c":"l","e":1.36,"f":1e-8},{"i":"XRT06","c":"l","e":1.84,"f":1e-8},{"i":"XRT06","c":"l","e":1.85,"f":1.5e-6},{"i":"XRT06","c":"l","e":1.86,"f":1e-8},{"i":"XRT06","c":"l","e":2.44,"f":1e-8},{"i":"XRT06","c":"l","e":2.45,"f":8e-7},{"i":"XRT06","c":"l","e":2.46,"f":1e-8}
  ]
},
"layer": [
  {"data": {"name": "spec"},
   "encoding": {
     "color": {"field": "i", "type": "nominal", "scale": {"domain": ["FPMA","FPMB","BAT","XMM","Chandra","XRT06","XRT15"], "range": ["#000000","#ff0000","#00ff00","#0000ff","#00ffff","#ff00ff","#ffff00"]}, "legend": null}
   },
   "layer": [
    {"mark": {"type": "rule", "opacity": 0.5},
     "encoding": {
      "x": {"field": "lo", "type": "quantitative", "scale": {"type": "log", "domain": [0.55, 200], "nice": false, "clamp": true}, "axis": null},
      "x2": {"field": "hi"},
      "y": {"field": "v", "type": "quantitative", "scale": {"type": "log", "domain": [1e-7, 3.5e-4], "range": [78, 0], "nice": false, "clamp": true}, "axis": null}
     }},
    {"mark": {"type": "errorbar", "opacity": 0.5},
     "encoding": {
      "x": {"field": "e", "type": "quantitative", "axis": null},
      "y": {"field": "v", "type": "quantitative", "axis": null},
      "yError": {"field": "dv"}
     }},
    {"mark": {"type": "rule"},
     "encoding": {
      "x": {"field": "lo", "type": "quantitative", "axis": null},
      "x2": {"field": "hi"},
      "y": {"field": "m", "type": "quantitative", "axis": null}
     }},
    {"mark": {"type": "line", "interpolate": "step-after"},
     "encoding": {
      "x": {"field": "lo", "type": "quantitative", "axis": null},
      "y": {"field": "m", "type": "quantitative", "axis": null}
     }}
   ]},
  {"data": {"name": "spec"},
   "encoding": {
     "color": {"field": "i", "type": "nominal", "scale": {"domain": ["FPMA","FPMB","BAT","XMM","Chandra","XRT06","XRT15"], "range": ["#000000","#ff0000","#00ff00","#0000ff","#00ffff","#ff00ff","#ffff00"]}, "legend": null}
   },
   "layer": [
    {"mark": {"type": "rule", "opacity": 0.45},
     "encoding": {
      "x": {"field": "lo", "type": "quantitative", "scale": {"type": "log", "domain": [0.55, 200], "nice": false, "clamp": true}, "axis": null},
      "x2": {"field": "hi"},
      "y": {"field": "r", "type": "quantitative", "scale": {"domain": [0.7, 1.53], "range": [161, 78], "nice": false, "zero": false, "clamp": true}, "axis": null}
     }},
    {"mark": {"type": "errorbar", "opacity": 0.45},
     "encoding": {
      "x": {"field": "e", "type": "quantitative", "axis": null},
      "y": {"field": "r", "type": "quantitative", "axis": null},
      "yError": {"field": "dr"}
     }},
    {"mark": {"type": "rule", "color": "#00ff00", "strokeWidth": 1},
     "encoding": {"y": {"datum": 1, "type": "quantitative", "axis": null}, "color": {"value": "#00ff00"}}}
   ]},
  {"data": {"name": "bot"},
   "mark": {"type": "line"},
   "encoding": {
    "x": {"field": "e", "type": "quantitative", "scale": {"type": "log", "domain": [0.55, 200], "nice": false, "clamp": true}, "axis": null},
    "y": {"field": "f", "type": "quantitative", "scale": {"type": "log", "domain": [1e-7, 0.03], "range": [242, 161], "nice": false, "clamp": true}, "axis": null},
    "color": {"field": "i", "type": "nominal", "scale": {"domain": ["FPMA","FPMB","BAT","XMM","Chandra","XRT06","XRT15"], "range": ["#000000","#ff0000","#00ff00","#0000ff","#00ffff","#ff00ff","#ffff00"]}, "legend": null},
    "detail": {"field": "c", "type": "nominal"},
    "strokeDash": {"field": "c", "type": "nominal", "scale": {"domain": ["t","a","b","s","p","l"], "range": [[1,0],[1,1.5],[1,1.5],[1,1.5],[1,1.5],[1,1.5]]}, "legend": null},
    "strokeWidth": {"field": "c", "type": "nominal", "scale": {"domain": ["t","a","b","s","p","l"], "range": [1.5,1,1,1,1,0.8]}, "legend": null}
   }},
  {"data": {"values": [{"a": 1, "b": 1e-5}]},
   "mark": {"type": "point", "opacity": 0, "size": 0},
   "encoding": {
    "x": {"field": "a", "type": "quantitative", "scale": {"type": "log", "domain": [0.55, 200], "nice": false},
          "axis": {"orient": "top", "title": null, "values": [0.6,0.7,0.8,0.9,1,2,3,4,5,6,7,8,9,10,20,30,40,50,60,70,80,90,100,200], "labels": false, "tickSize": {"condition": {"test": "datum.value==1||datum.value==10||datum.value==100", "value": -6}, "value": -3}}},
    "y": {"field": "b", "type": "quantitative", "scale": {"type": "log", "domain": [1e-7, 3.5e-4], "range": [78, 0], "nice": false},
          "axis": {"orient": "left", "title": "Counts s⁻¹ keV⁻¹ cm⁻²", "titleX": -29, "labelPadding": 4, "values": [1e-7,2e-7,3e-7,4e-7,5e-7,6e-7,7e-7,8e-7,9e-7,1e-6,2e-6,3e-6,4e-6,5e-6,6e-6,7e-6,8e-6,9e-6,1e-5,2e-5,3e-5,4e-5,5e-5,6e-5,7e-5,8e-5,9e-5,1e-4,2e-4,3e-4],
           "labelExpr": "datum.value==1e-4?'10⁻⁴':datum.value==1e-5?'10⁻⁵':datum.value==1e-6?'10⁻⁶':datum.value==1e-7?'10⁻⁷':''",
           "tickSize": {"condition": {"test": "datum.value==1e-4||datum.value==1e-5||datum.value==1e-6||datum.value==1e-7", "value": -6}, "value": -3}}}
   }},
  {"data": {"values": [{"a": 1, "b": 1e-5}]},
   "mark": {"type": "point", "opacity": 0, "size": 0},
   "encoding": {
    "x": {"field": "a", "type": "quantitative", "scale": {"type": "log", "domain": [0.55, 200], "nice": false},
          "axis": {"orient": "bottom", "offset": -164, "domain": true, "title": null, "values": [0.6,0.7,0.8,0.9,1,2,3,4,5,6,7,8,9,10,20,30,40,50,60,70,80,90,100,200], "labels": false, "tickSize": {"condition": {"test": "datum.value==1||datum.value==10||datum.value==100", "value": -6}, "value": -3}}},
    "y": {"field": "b", "type": "quantitative", "scale": {"type": "log", "domain": [1e-7, 3.5e-4], "range": [78, 0], "nice": false},
          "axis": {"orient": "right", "title": null, "values": [1e-7,2e-7,3e-7,4e-7,5e-7,6e-7,7e-7,8e-7,9e-7,1e-6,2e-6,3e-6,4e-6,5e-6,6e-6,7e-6,8e-6,9e-6,1e-5,2e-5,3e-5,4e-5,5e-5,6e-5,7e-5,8e-5,9e-5,1e-4,2e-4,3e-4], "labels": false,
           "tickSize": {"condition": {"test": "datum.value==1e-4||datum.value==1e-5||datum.value==1e-6||datum.value==1e-7", "value": -6}, "value": -3}}}
   }},
  {"data": {"values": [{"a": 1, "b": 1}]},
   "mark": {"type": "point", "opacity": 0, "size": 0},
   "encoding": {
    "x": {"field": "a", "type": "quantitative", "scale": {"type": "log", "domain": [0.55, 200], "nice": false},
          "axis": {"orient": "top", "offset": -78, "title": null, "values": [0.6,0.7,0.8,0.9,1,2,3,4,5,6,7,8,9,10,20,30,40,50,60,70,80,90,100,200], "labels": false, "tickSize": {"condition": {"test": "datum.value==1||datum.value==10||datum.value==100", "value": -6}, "value": -3}}},
    "y": {"field": "b", "type": "quantitative", "scale": {"domain": [0.7, 1.53], "range": [161, 78], "nice": false, "zero": false},
          "axis": {"orient": "left", "title": "Data/model", "titleX": -29, "labelPadding": 4, "values": [0.7,0.8,0.9,1,1.1,1.2,1.3,1.4,1.5],
           "labelExpr": "datum.value==0.8?'0.8':datum.value==1?'1':datum.value==1.2?'1.2':datum.value==1.4?'1.4':''",
           "tickSize": {"condition": {"test": "datum.value==0.8||datum.value==1||datum.value==1.2||datum.value==1.4", "value": -6}, "value": -3}}}
   }},
  {"data": {"values": [{"a": 1, "b": 1}]},
   "mark": {"type": "point", "opacity": 0, "size": 0},
   "encoding": {
    "x": {"field": "a", "type": "quantitative", "scale": {"type": "log", "domain": [0.55, 200], "nice": false},
          "axis": {"orient": "bottom", "offset": -81, "domain": true, "title": null, "values": [0.6,0.7,0.8,0.9,1,2,3,4,5,6,7,8,9,10,20,30,40,50,60,70,80,90,100,200], "labels": false, "tickSize": {"condition": {"test": "datum.value==1||datum.value==10||datum.value==100", "value": -6}, "value": -3}}},
    "y": {"field": "b", "type": "quantitative", "scale": {"domain": [0.7, 1.53], "range": [161, 78], "nice": false, "zero": false},
          "axis": {"orient": "right", "title": null, "values": [0.7,0.8,0.9,1,1.1,1.2,1.3,1.4,1.5], "labels": false,
           "tickSize": {"condition": {"test": "datum.value==0.8||datum.value==1||datum.value==1.2||datum.value==1.4", "value": -6}, "value": -3}}}
   }},
  {"data": {"values": [{"a": 1, "b": 1e-4}]},
   "mark": {"type": "point", "opacity": 0, "size": 0},
   "encoding": {
    "x": {"field": "a", "type": "quantitative", "scale": {"type": "log", "domain": [0.55, 200], "nice": false},
          "axis": {"orient": "top", "offset": -161, "title": null, "values": [0.6,0.7,0.8,0.9,1,2,3,4,5,6,7,8,9,10,20,30,40,50,60,70,80,90,100,200], "labels": false, "tickSize": {"condition": {"test": "datum.value==1||datum.value==10||datum.value==100", "value": -6}, "value": -3}}},
    "y": {"field": "b", "type": "quantitative", "scale": {"type": "log", "domain": [1e-7, 0.03], "range": [242, 161], "nice": false},
          "axis": {"orient": "left", "title": "keV² (ph s⁻¹ keV⁻¹ cm⁻²)", "titleX": -29, "labelPadding": 4, "values": [1e-7,2e-7,3e-7,4e-7,5e-7,6e-7,7e-7,8e-7,9e-7,1e-6,2e-6,3e-6,4e-6,5e-6,6e-6,7e-6,8e-6,9e-6,1e-5,2e-5,3e-5,4e-5,5e-5,6e-5,7e-5,8e-5,9e-5,1e-4,2e-4,3e-4,4e-4,5e-4,6e-4,7e-4,8e-4,9e-4,1e-3,2e-3,3e-3,4e-3,5e-3,6e-3,7e-3,8e-3,9e-3,0.01,0.02,0.03],
           "labelExpr": "datum.value==0.01?'0.01':datum.value==1e-3?'10⁻³':datum.value==1e-4?'10⁻⁴':datum.value==1e-5?'10⁻⁵':datum.value==1e-6?'10⁻⁶':datum.value==1e-7?'10⁻⁷':''",
           "tickSize": {"condition": {"test": "datum.value==0.01||datum.value==1e-3||datum.value==1e-4||datum.value==1e-5||datum.value==1e-6||datum.value==1e-7", "value": -6}, "value": -3}}}
   }},
  {"data": {"values": [{"a": 1, "b": 1e-4}]},
   "mark": {"type": "point", "opacity": 0, "size": 0},
   "encoding": {
    "x": {"field": "a", "type": "quantitative", "scale": {"type": "log", "domain": [0.55, 200], "nice": false},
          "axis": {"orient": "bottom", "title": "Energy (keV)", "titlePadding": 2, "values": [0.6,0.7,0.8,0.9,1,2,3,4,5,6,7,8,9,10,20,30,40,50,60,70,80,90,100,200], "labelExpr": "datum.value==1?'1':datum.value==10?'10':datum.value==100?'100':''", "labelPadding": 9, "tickSize": {"condition": {"test": "datum.value==1||datum.value==10||datum.value==100", "value": -6}, "value": -3}}},
    "y": {"field": "b", "type": "quantitative", "scale": {"type": "log", "domain": [1e-7, 0.03], "range": [242, 161], "nice": false},
          "axis": {"orient": "right", "title": null, "values": [1e-7,2e-7,3e-7,4e-7,5e-7,6e-7,7e-7,8e-7,9e-7,1e-6,2e-6,3e-6,4e-6,5e-6,6e-6,7e-6,8e-6,9e-6,1e-5,2e-5,3e-5,4e-5,5e-5,6e-5,7e-5,8e-5,9e-5,1e-4,2e-4,3e-4,4e-4,5e-4,6e-4,7e-4,8e-4,9e-4,1e-3,2e-3,3e-3,4e-3,5e-3,6e-3,7e-3,8e-3,9e-3,0.01,0.02,0.03], "labels": false,
           "tickSize": {"condition": {"test": "datum.value==0.01||datum.value==1e-3||datum.value==1e-4||datum.value==1e-5||datum.value==1e-6||datum.value==1e-7", "value": -6}, "value": -3}}}
   }},
  {"data": {"values": [{"n": "XMM/pn"}, {"n": "Chandra"}, {"n": "Swift/XRT (2006)"}, {"n": "Swift/XRT (2015)"}]},
   "mark": {"type": "point", "opacity": 0, "size": 0},
   "encoding": {
    "fill": {"field": "n", "type": "nominal", "scale": {"domain": ["XMM/pn", "Chandra", "Swift/XRT (2006)", "Swift/XRT (2015)"], "range": ["#0000ff", "#00ffff", "#ff00ff", "#ffff00"]},
             "legend": {"orient": "none", "legendX": 1, "legendY": 27, "title": null, "symbolOpacity": 0, "symbolSize": 0, "symbolStrokeWidth": 0, "labelOffset": 0, "labelFont": "Liberation Serif", "labelFontSize": 9.5, "rowPadding": -1.5, "padding": 0,
                        "encode": {"labels": {"update": {"fill": {"signal": "datum.value=='XMM/pn'?'#0000ff':datum.value=='Chandra'?'#00ffff':datum.value=='Swift/XRT (2006)'?'#ff00ff':'#ffff00'"}}}}}}
   }},
  {"data": {"values": [{"n": "NuSTAR/FPMA"}, {"n": "NuSTAR/FPMB"}, {"n": "Swift/BAT"}]},
   "mark": {"type": "point", "opacity": 0, "size": 0},
   "encoding": {
    "stroke": {"field": "n", "type": "nominal", "scale": {"domain": ["NuSTAR/FPMA", "NuSTAR/FPMB", "Swift/BAT"], "range": ["#000000", "#ff0000", "#00ff00"]},
             "legend": {"orient": "none", "legendX": 304, "legendY": 6, "title": null, "symbolOpacity": 0, "symbolSize": 0, "symbolStrokeWidth": 0, "labelOffset": 0, "labelAlign": "right", "labelFont": "Liberation Serif", "labelFontSize": 9.5, "rowPadding": -2, "padding": 0,
                        "encode": {"labels": {"update": {"fill": {"signal": "datum.value=='NuSTAR/FPMA'?'#000000':datum.value=='NuSTAR/FPMB'?'#ff0000':'#00ff00'"}}}}}}
   }}
],
"resolve": {"scale": {"x": "independent", "y": "independent"}}
}
